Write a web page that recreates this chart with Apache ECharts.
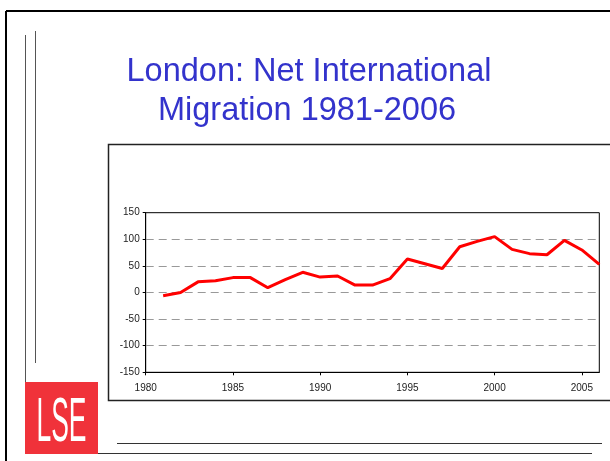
<!DOCTYPE html>
<html>
<head>
<meta charset="utf-8">
<script src="https://cdn.jsdelivr.net/npm/echarts@6/dist/echarts.min.js"></script>
<style>
html,body{margin:0;padding:0;background:#fff;}
#chart{width:610px;height:461px;}
</style>
</head>
<body>
<div id="chart"></div>
<script>
var titleLines = ['London: Net International', 'Migration 1981-2006'];
var years = [1981,1982,1983,1984,1985,1986,1987,1988,1989,1990,1991,1992,1993,1994,1995,1996,1997,1998,1999,2000,2001,2002,2003,2004,2005,2006];
var netMigration = [-6,0,20,22,28,28,9,24,38,29,31,14,14,26,63,54,45,86,96,105,81,73,71,98,80,53];
var xTicks = {min:1980, max:2006, interval:5};
var yTicks = {min:-150, max:150, interval:50};

var chart = echarts.init(document.getElementById('chart'), null, {renderer:'canvas'});
var font = 'Liberation Sans, Arial, sans-serif';
var option = {
  animation: false,
  backgroundColor: '#ffffff',
  grid: {left:145.7, right:10.7, top:212.7, height:159.6, show:true, borderColor:'#000', borderWidth:1, backgroundColor:'transparent'},
  xAxis: {
    type:'value', min:xTicks.min, max:xTicks.max, interval:xTicks.interval,
    axisLine:{show:true, onZero:false, lineStyle:{color:'#000', width:1}},
    axisTick:{show:true, inside:false, length:3, lineStyle:{color:'#000'}},
    axisLabel:{color:'#222', fontSize:10, fontFamily:font, margin:11, showMaxLabel:false,
      formatter:function(v){return v % 5 === 0 ? String(v) : '';}},
    splitLine:{show:false}
  },
  yAxis: {
    type:'value', min:yTicks.min, max:yTicks.max, interval:yTicks.interval,
    axisLine:{show:true, lineStyle:{color:'#000', width:1}},
    axisTick:{show:true, inside:false, length:3, lineStyle:{color:'#000'}},
    axisLabel:{color:'#222', fontSize:10, fontFamily:font, margin:6},
    splitLine:{show:true, showMinLine:false, showMaxLine:false, lineStyle:{color:'#999', type:[8,5], width:1}}
  },
  series: [{
    type:'line',
    data: years.map(function(y,i){return [y, netMigration[i]];}),
    symbol:'none',
    lineStyle:{color:'#ff0000', width:3},
    z:5
  }],
  graphic: [
    {type:'line', shape:{x1:6, y1:11, x2:610, y2:11}, style:{stroke:'#000', lineWidth:2}},
    {type:'line', shape:{x1:6, y1:11, x2:6, y2:461}, style:{stroke:'#000', lineWidth:2}},
    {type:'line', shape:{x1:25.5, y1:35, x2:25.5, y2:382}, style:{stroke:'#555', lineWidth:1}},
    {type:'line', shape:{x1:35.5, y1:31, x2:35.5, y2:363}, style:{stroke:'#555', lineWidth:1}},
    {type:'rect', shape:{x:108.5, y:144.5, width:520, height:256}, style:{fill:'none', stroke:'#222', lineWidth:1.5}},
    {type:'line', shape:{x1:117, y1:443.5, x2:602, y2:443.5}, style:{stroke:'#333', lineWidth:1}},
    {type:'line', shape:{x1:98, y1:453.5, x2:592, y2:453.5}, style:{stroke:'#333', lineWidth:1}},
    {type:'rect', shape:{x:25, y:382, width:73, height:72}, style:{fill:'#f0323a'}},
    {type:'text', x:61.5, y:392, scaleX:0.42, scaleY:1,
      style:{text:'LSE', fill:'#fff', font:'63px ' + font, textAlign:'center', textVerticalAlign:'top'}},
    {type:'text', x:309, y:56,
      style:{text:titleLines[0], fill:'#3333cc', font:'32.5px ' + font, textAlign:'center', textVerticalAlign:'top'}},
    {type:'text', x:307, y:94.5,
      style:{text:titleLines[1], fill:'#3333cc', font:'32.5px ' + font, textAlign:'center', textVerticalAlign:'top'}}
  ]
};
chart.setOption(option);
</script>
</body>
</html>
